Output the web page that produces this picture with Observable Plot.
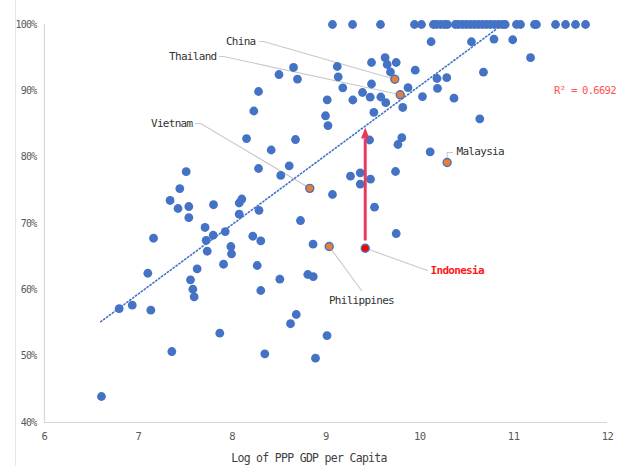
<!DOCTYPE html>
<html><head><meta charset="utf-8">
<script src="https://cdn.jsdelivr.net/npm/d3@7"></script>
<script src="https://cdn.jsdelivr.net/npm/@observablehq/plot@0.6"></script>
<style>
html,body{margin:0;padding:0;background:#fff;}
#wrap{position:relative;width:618px;height:466px;overflow:hidden;}
#edge{position:absolute;left:15px;top:0;width:1px;height:466px;background:#e6e6e6;}
svg text{font-family:"DejaVu Sans Mono","Liberation Mono",monospace;}
g[aria-label="text"]{letter-spacing:-0.7px;}
g[aria-label="y-axis tick label"]{letter-spacing:-0.8px;}
g[aria-label="x-axis tick label"]{letter-spacing:-0.5px;}
</style></head><body>
<div id="wrap"><div id="chart"></div><div id="edge"></div></div>
<script>
// ---- data ----
const logGdp = [10.12,10.55,10.79,10.99,11.18,9.63,9.485,9.748,9.652,9.12,9.687,9.951,10.678,9.13,10.183,10.287,9.485,9.179,9.874,10.188,
  9.389,9.471,9.584,9.286,9.013,9.637,10.028,10.364,9.818,9.51,8.995,9.021,10.639,9.808,9.767,9.464,10.11,9.741,9.261,9.365,
  9.365,9.474,9.069,9.517,8.499,8.654,8.696,8.281,8.231,8.153,8.675,8.416,8.281,8.608,8.518,7.51,7.442,7.338,7.423,7.538,
  7.538,7.801,8.075,8.103,8.075,8.286,8.728,7.711,7.723,7.798,7.926,7.734,7.986,7.993,7.162,7.101,7.627,7.908,7.556,7.581,
  7.595,6.796,6.935,7.133,7.868,7.357,6.607,8.22,8.305,8.267,8.305,8.508,8.348,8.622,8.683,8.806,8.864,9.748,8.862,9.011,8.888];
const share = [97.4,97.4,97.8,97.7,95.0,95.0,94.27,94.27,93.97,93.67,92.84,93.11,92.81,92.11,91.86,91.98,91.03,90.46,90.47,90.38,
  89.75,89.04,89.07,88.62,88.65,88.21,89.14,88.89,87.49,86.76,86.24,84.77,85.78,82.93,81.91,82.59,80.81,77.84,77.13,77.64,
  75.95,76.68,74.37,72.46,92.46,93.52,91.78,89.9,86.96,82.81,82.66,81.08,78.29,78.7,77.24,77.81,75.27,73.47,72.26,72.56,
  70.9,72.83,73.09,73.69,71.4,71.99,70.45,69.4,67.44,68.23,68.79,65.82,66.53,65.43,67.78,62.5,63.17,63.86,61.51,60.09,
  58.95,57.18,57.68,56.93,53.46,50.7,43.92,68.08,67.39,63.67,59.9,61.6,50.35,54.89,56.28,62.31,61.98,68.49,66.88,53.11,49.69];
// countries at 100%
const fullX = [9.069,9.283,9.581,9.943,10.018,10.145,10.177,10.22,10.262,10.294,10.379,10.411,10.454,10.496,10.539,10.582,10.624,
  10.667,10.71,10.752,10.795,10.837,10.88,10.91,11.03,11.073,11.222,11.243,11.446,11.553,11.659,11.766];
// highlighted countries
const hlNames = ["China","Thailand","Vietnam","Malaysia","Philippines","Indonesia"];
const hlX = [9.733,9.791,8.827,10.291,9.034,9.418];
const hlY = [91.75,89.40,75.30,79.19,66.53,66.27];
// trendline end points and R²
const trendX = [6.6,10.82];
const trendY = [55.2,99.35];
const rSquared = "0.6692";
// arrow from Indonesia up to the trend line
const arrowX = 9.418, arrowFrom = 67.44, arrowShaftTo = 82.8, arrowTip = 84.47;
// annotation anchors (data units)
const labelText = ["China","Thailand","Vietnam","Malaysia","Philippines","Indonesia","R² = " + rSquared];
const labelX = [8.249,7.833,7.577,10.391,9.378,10.114,11.43];
const labelY = [97.44,95.18,85.07,80.85,58.39,62.91,90.05];
const leaderName = ["China","China","China","Thailand","Thailand","Thailand","Vietnam","Vietnam","Vietnam",
  "Malaysia","Malaysia","Malaysia","Philippines","Philippines","Indonesia","Indonesia"];
const leaderX = [8.291,8.334,9.733, 7.865,7.908,9.791, 7.609,7.663,8.827, 10.291,10.291,10.348, 9.034,9.378, 9.418,10.082];
const leaderY = [97.44,97.44,91.75, 95.18,95.18,89.40, 85.07,85.07,75.30, 79.19,80.70,80.70, 66.53,59.9, 66.27,62.91];
const xTicks = [6,7,8,9,10,11,12];
const yTicks = [40,50,60,70,80,90,100];
const xLabel = "Log of PPP GDP per Capita";

// ---- build ----
const pts = logGdp.map((x,i)=>({x, y: share[i]/100})).concat(fullX.map(x=>({x, y:1})));
const hl = hlNames.map((n,i)=>({name:n, x:hlX[i], y:hlY[i]/100}));
const trend = trendX.map((x,i)=>({x, y:trendY[i]/100}));
const labels = labelText.map((t,i)=>({t, x:labelX[i], y:labelY[i]/100}));
const leaders = leaderName.map((n,i)=>({n, x:leaderX[i], y:leaderY[i]/100}));
const blue = "#4472c4", orange = "#ed7d31", pink = "#e8395f";
const head = {draw(ctx){ ctx.moveTo(0,0); ctx.lineTo(4.2,11); ctx.lineTo(-4.2,11); ctx.closePath(); }};

const chart = Plot.plot({
  width: 618, height: 466,
  marginLeft: 44, marginRight: 11, marginTop: 24, marginBottom: 44,
  x: {domain:[6,12]},
  y: {domain:[0.4,1]},
  style: {background:"transparent", overflow:"visible"},
  marks: [
    Plot.ruleY([0.4], {x1:6, x2:12, stroke:"#d6d6d6", strokeWidth:1.2}),
    Plot.ruleX([6], {y1:0.4, y2:1, stroke:"#d6d6d6", strokeWidth:1.2}),
    Plot.axisY({ticks: yTicks.map(d=>d/100), tickFormat: d=>Math.round(d*100)+"%", tickSize:0, tickPadding:8, fontSize:10, fill:"#595959", label:null}),
    Plot.axisX({ticks: xTicks, tickFormat: d=>String(d), tickSize:0, tickPadding:10, fontSize:10.5, fill:"#595959", label:null}),
    Plot.text([xLabel], {frameAnchor:"bottom", dy:39, dx:-17, fontSize:11.5, fill:"#404040"}),
    Plot.line(leaders, {x:"x", y:"y", z:"n", stroke:"#c9c9c9", strokeWidth:1.1}),
    Plot.dot(pts, {x:"x", y:"y", r:4.4, fill:blue}),
    Plot.line(trend, {x:"x", y:"y", stroke:blue, strokeWidth:1.6, strokeDasharray:"1.3,2.3", strokeLinecap:"round"}),
    Plot.link([{}], {x1:()=>arrowX, x2:()=>arrowX, y1:()=>arrowFrom/100, y2:()=>arrowShaftTo/100, stroke:pink, strokeWidth:3}),
    Plot.dot([{}], {x:()=>arrowX, y:()=>arrowTip/100, symbol:head, r:5, fill:pink, stroke:"none"}),
    Plot.dot(hl.filter(d=>d.name!=="Indonesia"), {x:"x", y:"y", r:4, fill:orange, stroke:blue, strokeWidth:1.4}),
    Plot.dot(hl.filter(d=>d.name==="Indonesia"), {x:"x", y:"y", r:4, fill:"#ff0000", stroke:blue, strokeWidth:1.4}),
    Plot.text(labels.filter(d=>["China","Thailand","Vietnam"].includes(d.t)), {x:"x", y:"y", text:"t", textAnchor:"end", fontSize:11, fill:"#333"}),
    Plot.text(labels.filter(d=>d.t==="Malaysia"), {x:"x", y:"y", text:"t", textAnchor:"start", fontSize:11, fill:"#333"}),
    Plot.text(labels.filter(d=>d.t==="Philippines"), {x:"x", y:"y", text:"t", textAnchor:"middle", fontSize:11, fill:"#333"}),
    Plot.text(labels.filter(d=>d.t==="Indonesia"), {x:"x", y:"y", text:"t", textAnchor:"start", fontSize:11, fontWeight:"bold", fill:"#ff1a1a"}),
    Plot.text(labels.filter(d=>d.t.startsWith("R²")), {x:"x", y:"y", text:"t", textAnchor:"start", fontSize:10.5, fill:"#ff5252"})
  ]
});
document.getElementById("chart").appendChild(chart);
</script></body></html>
